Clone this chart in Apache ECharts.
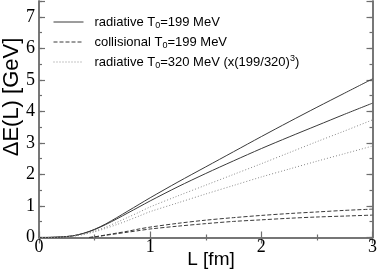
<!DOCTYPE html>
<html><head><meta charset="utf-8">
<script src="https://cdn.jsdelivr.net/npm/echarts@6/dist/echarts.min.js"></script>
<style>html,body{margin:0;padding:0;background:#fff}#c{width:380px;height:273px}</style>
</head><body><div id="c"></div>
<script>
const L = [0,0.1,0.2,0.3,0.4,0.5,0.6,0.7,0.8,0.9,1.0,1.25,1.5,1.75,2.0,2.25,2.5,2.75,3.0];
const rad199a = [0,0.004,0.02,0.05,0.13,0.26,0.43,0.63,0.84,1.05,1.26,1.76,2.24,2.72,3.2,3.67,4.13,4.58,5.03];
const rad199b = [0,0.004,0.02,0.05,0.13,0.25,0.41,0.59,0.78,0.97,1.16,1.61,2.03,2.43,2.82,3.19,3.55,3.91,4.26];
const rad320a = [0,0.003,0.016,0.04,0.1,0.2,0.33,0.48,0.64,0.8,0.97,1.32,1.66,2.0,2.34,2.69,3.04,3.38,3.73];
const rad320b = [0,0.003,0.016,0.04,0.1,0.18,0.29,0.41,0.54,0.68,0.82,1.1,1.38,1.65,1.92,2.17,2.42,2.66,2.9];
const Lcol = [0.45,0.5,0.6,0.7,0.8,0.9,1.0,1.25,1.5,1.75,2.0,2.25,2.5,2.75,3.0];
const col199a = [0,0.02,0.08,0.14,0.2,0.27,0.33,0.45,0.55,0.63,0.70,0.76,0.81,0.86,0.90];
const col199b = [0,0.02,0.07,0.12,0.17,0.22,0.27,0.36,0.44,0.51,0.56,0.61,0.65,0.68,0.71];
const legendNames = ['rad199','col199','rad320'];
const legendLabels = {
  rad199: 'radiative T{s|0}=199 MeV',
  col199: 'collisional T{s|0}=199 MeV',
  rad320: 'radiative T{s|0}=320 MeV (x(199/320){p|3})'
};
const xTicks = [0,1,2,3];
const yTicks = [0,1,2,3,4,5,6,7];

const pairs = (xs, ys) => xs.map((x, i) => [x, ys[i]]);
const frame = '#6e6e6e';
const serif = 'Liberation Serif';
const sans = 'Liberation Sans';

function xAx(pos, labels) {
  return {
    type: 'value', position: pos, min: 0, max: 3, interval: 1,
    axisLine: {show: true, lineStyle: {color: frame, width: 1.5}},
    axisTick: {show: true, inside: true, length: 6, lineStyle: {color: frame, width: 1.2}},
    minorTick: {show: true, splitNumber: 2, length: 3, lineStyle: {color: frame, width: 1.2}},
    splitLine: {show: false}, minorSplitLine: {show: false},
    axisLabel: {show: labels, fontFamily: serif, fontSize: 18, color: '#000', margin: 1,
      formatter: v => xTicks.includes(v) ? String(v) : ''}
  };
}
function yAx(pos, labels, interval, len) {
  return {
    type: 'value', position: pos, min: 0, max: 7.5, interval: interval, offset: 0,
    axisLine: {show: true, lineStyle: {color: frame, width: 1.5}},
    axisTick: {show: true, inside: true, length: len, lineStyle: {color: frame, width: 1.2}},
    splitLine: {show: false},
    axisLabel: {show: labels, fontFamily: serif, fontSize: 18, color: '#000', margin: 4,
      formatter: v => yTicks.includes(v) ? String(v) : ''}
  };
}

const solid = {color: '#3a3a3a', width: 1, type: 'solid'};
const dashed = {color: '#3a3a3a', width: 1, type: [4, 2]};
const dotted = {color: '#8a8a8a', width: 1, type: [1, 2]};
function ser(name, data, ls) {
  return {type: 'line', name: name, data: data, smooth: 0.3, symbol: 'none', showSymbol: false,
    lineStyle: ls, itemStyle: {color: ls.color}, xAxisIndex: 0, yAxisIndex: 0, silent: true, animation: false};
}

const chart = echarts.init(document.getElementById('c'), null, {renderer: 'canvas'});
chart.setOption({
  animation: false,
  backgroundColor: '#fff',
  grid: {left: 39, right: 5, top: 1, bottom: 35.5, containLabel: false},
  xAxis: [xAx('bottom', true), xAx('top', false)],
  yAxis: [yAx('left', true, 0.5, 3), yAx('left', false, 1, 6), yAx('right', false, 0.5, 3), yAx('right', false, 1, 6)],
  legend: {
    data: legendNames, orient: 'vertical', left: 48, top: 9,
    itemWidth: 30, itemHeight: 16, itemGap: 4,
    itemStyle: {opacity: 0, borderWidth: 0},
    lineStyle: {width: 1},
    formatter: n => legendLabels[n],
    textStyle: {fontFamily: sans, fontSize: 13, color: '#000', lineHeight: 16, padding: [0,0,0,6],
      rich: {s: {fontFamily: sans, fontSize: 9, verticalAlign: 'bottom', lineHeight: 12},
             p: {fontFamily: sans, fontSize: 9, verticalAlign: 'top', lineHeight: 10}}},
    selectedMode: false
  },
  series: [
    ser('rad199', pairs(L, rad199a), solid),
    ser('rad199', pairs(L, rad199b), solid),
    ser('col199', pairs(Lcol, col199a), dashed),
    ser('col199', pairs(Lcol, col199b), dashed),
    ser('rad320', pairs(L, rad320a), dotted),
    ser('rad320', pairs(L, rad320b), dotted)
  ],
  graphic: [
    {type: 'text', x: 12, y: 97, rotation: Math.PI / 2,
     style: {text: 'ΔE(L) [GeV]', font: '22px "Liberation Sans"', fill: '#000', align: 'center', verticalAlign: 'middle'}},
    {type: 'text', x: 211, y: 260,
     style: {text: 'L [fm]', font: '19px "Liberation Sans"', fill: '#000', align: 'center', verticalAlign: 'middle'}}
  ]
});
</script></body></html>
